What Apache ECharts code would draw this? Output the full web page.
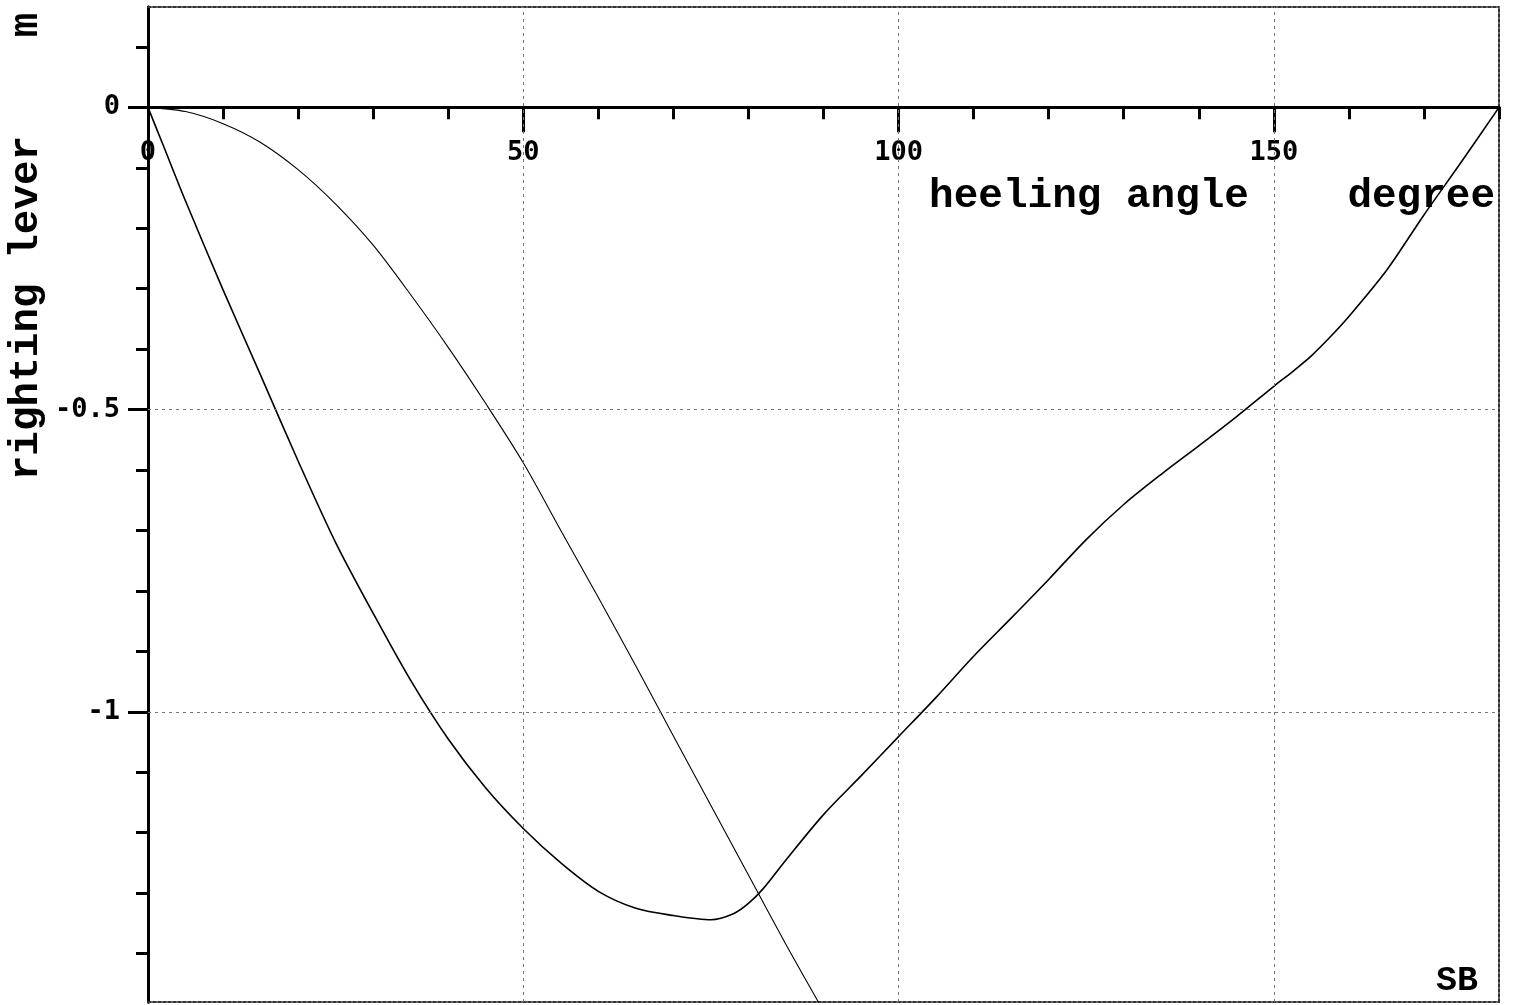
<!DOCTYPE html>
<html>
<head>
<meta charset="utf-8">
<title>righting lever</title>
<script src="https://cdn.jsdelivr.net/npm/echarts@6/dist/echarts.min.js"></script>
<style>
html, body { margin: 0; padding: 0; background: #fff; }
#main { width: 1515px; height: 1005px; }
</style>
</head>
<body>
<div id="main"></div>
<script>
// righting lever curve (degree / m)
var angleA = [0, 2, 5, 10, 15, 20, 25, 30, 35, 40, 45, 50, 55, 60, 65, 70, 75, 78, 80, 82, 85, 90,
              95, 100, 105, 110, 115, 120, 125, 130, 135, 140, 145, 150, 152.5, 155, 157.5, 160,
              165, 170, 175, 180];
var leverA = [0, -0.062, -0.155, -0.302, -0.443, -0.585, -0.72, -0.837, -0.948, -1.045, -1.126, -1.193,
              -1.25, -1.297, -1.325, -1.337, -1.344, -1.334, -1.317, -1.292, -1.245, -1.17,
              -1.106, -1.041, -0.976, -0.908, -0.845, -0.781, -0.715, -0.657, -0.607, -0.56,
              -0.512, -0.4615, -0.437, -0.411, -0.38, -0.346,
              -0.27, -0.178, -0.09, 0];
// second curve
var angleB = [0, 5, 10, 15, 20, 25, 30, 35, 40, 45, 50, 55, 60, 65, 70, 75, 80, 85, 90];
var leverB = [0, -0.007, -0.027, -0.058, -0.103, -0.16, -0.228, -0.31, -0.397, -0.49, -0.588,
              -0.70, -0.811, -0.924, -1.04, -1.155, -1.27, -1.385, -1.495];

var xMajorTicks = [0, 50, 100, 150];
var yMinorTicks = [0.1, 0, -0.1, -0.2, -0.3, -0.4, -0.5, -0.6, -0.7, -0.8, -0.9, -1, -1.1, -1.2, -1.3, -1.4];
var yMajorTicks = [0, -0.5, -1];
var gridX = [50, 100, 150];
var gridY = [-0.5, -1];

var X_MIN = 0, X_MAX = 180, X_STEP = 10, Y_MIN = -1.48, Y_MAX = 0.166;

var chart = echarts.init(document.getElementById('main'));

var axisFont = { fontFamily: 'DejaVu Sans Mono', fontWeight: 'bold', fontSize: 27, color: '#000' };
var nameFont = { fontFamily: 'Liberation Mono', fontWeight: 'bold', fontSize: 41, color: '#000' };
var border = { show: true, onZero: false, lineStyle: { color: '#333', width: 2, type: [3, 2] } };

function pairs(xs, ys) {
    return xs.map(function (x, i) { return [x, ys[i]]; });
}

var option = {
    animation: false,
    backgroundColor: '#fff',
    title: {
        text: 'SB',
        right: 37, bottom: 6, padding: 0,
        textStyle: { fontFamily: 'Liberation Mono', fontWeight: 'bold', fontSize: 35, color: '#000' }
    },
    grid: { left: 148, right: 16, top: 7, bottom: 3, containLabel: false, outerBoundsMode: 'none' },
    xAxis: [
        {   // minor ticks, axis at zero
            type: 'value', min: X_MIN, max: X_MAX, interval: X_STEP, position: 'bottom',
            axisLine: { show: true, onZero: true, lineStyle: { color: '#000', width: 3 } },
            axisTick: { show: true, length: 12, lineStyle: { color: '#000', width: 3 } },
            axisLabel: { show: false },
            splitLine: { show: false }
        },
        {   // major ticks + axis name
            type: 'value', min: X_MIN, max: X_MAX, position: 'bottom',
            axisLine: { show: true, onZero: true, lineStyle: { color: '#000', width: 3 } },
            axisTick: { show: true, customValues: xMajorTicks, length: 25, lineStyle: { color: '#000', width: 3 } },
            axisLabel: { show: false },
            splitLine: { show: false },
            name: 'heeling angle    degree',
            nameLocation: 'end', nameGap: -4, nameMoveOverlap: false,
            nameTextStyle: Object.assign({ align: 'right', verticalAlign: 'top', lineHeight: 44, padding: [67, 0, 0, 0] }, nameFont)
        },
        {   // top frame, carries the angle labels (drawn inside, under the zero line)
            type: 'value', min: X_MIN, max: X_MAX, interval: 50, position: 'top',
            axisLine: border, axisTick: { show: false }, splitLine: { show: false },
            axisLabel: Object.assign({
                show: true, inside: true, margin: 132, verticalAlign: 'top',
                showMinLabel: true, showMaxLabel: false, hideOverlap: false,
                formatter: function (v) { return xMajorTicks.indexOf(v) >= 0 ? String(v) : ''; }
            }, axisFont)
        },
        {   // bottom frame
            type: 'value', min: X_MIN, max: X_MAX, position: 'bottom',
            axisLine: border, axisTick: { show: false }, axisLabel: { show: false }, splitLine: { show: false }
        }
    ],
    yAxis: [
        {
            type: 'value', min: Y_MIN, max: Y_MAX, position: 'left',
            axisLine: { show: true, onZero: false, lineStyle: { color: '#000', width: 3 } },
            axisTick: { show: true, customValues: yMinorTicks, length: 12, lineStyle: { color: '#000', width: 3 } },
            axisLabel: { show: false },
            splitLine: { show: false }
        },
        {
            type: 'value', min: Y_MIN, max: Y_MAX, position: 'left',
            name: 'righting lever    m',
            nameLocation: 'middle', nameGap: 121, nameMoveOverlap: false,
            nameTextStyle: Object.assign({ verticalAlign: 'middle', lineHeight: 40, padding: [0, 0, 0, 516] }, nameFont),
            axisLine: { show: true, onZero: false, lineStyle: { color: '#000', width: 3 } },
            axisTick: { show: true, customValues: yMajorTicks, length: 20, lineStyle: { color: '#000', width: 3 } },
            axisLabel: Object.assign({ customValues: yMajorTicks, margin: 28 }, axisFont),
            splitLine: { show: false }
        },
        {   // right frame
            type: 'value', min: Y_MIN, max: Y_MAX, position: 'right',
            axisLine: border, axisTick: { show: false }, axisLabel: { show: false }, splitLine: { show: false }
        }
    ],
    series: [
        {
            type: 'line', xAxisIndex: 0, yAxisIndex: 0,
            data: pairs(angleA, leverA),
            showSymbol: false, smooth: 0.3, silent: true,
            lineStyle: { color: '#000', width: 1.6 },
            markLine: {
                silent: true, symbol: ['none', 'none'],
                label: { show: false },
                lineStyle: { color: '#777', width: 1, type: [3, 4] },
                data: gridX.map(function (v) { return { xAxis: v }; })
                    .concat(gridY.map(function (v) { return { yAxis: v }; }))
            }
        },
        {
            type: 'line', xAxisIndex: 0, yAxisIndex: 0,
            data: pairs(angleB, leverB),
            showSymbol: false, smooth: 0.3, silent: true,
            lineStyle: { color: '#000', width: 1.1 }
        }
    ]
};

chart.setOption(option);
</script>
</body>
</html>
